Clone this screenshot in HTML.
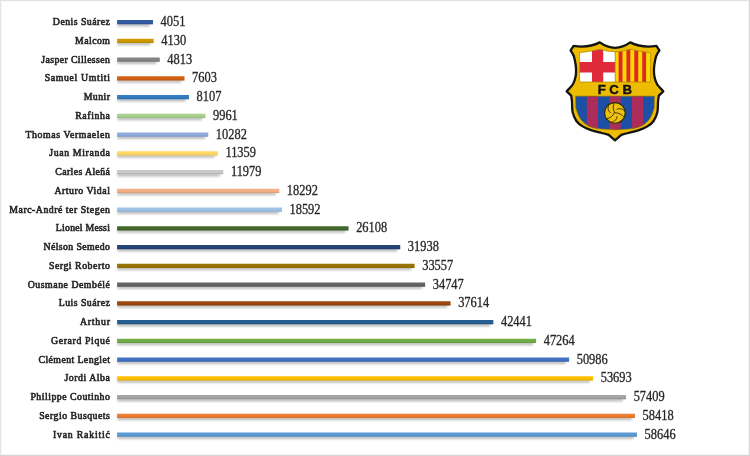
<!DOCTYPE html>
<html><head><meta charset="utf-8">
<style>
html,body{margin:0;padding:0;background:#fff;}
body{width:750px;height:456px;overflow:hidden;position:relative;}
svg{position:absolute;left:0;top:0;will-change:transform;}
.l{font-family:"Liberation Serif",serif;font-weight:normal;font-size:9.8px;letter-spacing:0px;fill:#262626;stroke:#262626;stroke-width:0.6px;text-anchor:end;}
.n{font-family:"Liberation Serif",serif;font-size:138.0px;fill:#262626;stroke:#262626;stroke-width:3.0px;}
</style></head><body>
<svg width="750" height="456" viewBox="0 0 750 456">
<defs><filter id="sh" x="-20%" y="-200%" width="140%" height="500%"><feGaussianBlur stdDeviation="1.0"/></filter></defs>
<rect x="0" y="0" width="750" height="456" fill="#fff"/>
<rect x="117.40" y="23.50" width="32.31" height="3.0" fill="#bdbdbd" filter="url(#sh)"/><rect x="117.10" y="20.00" width="35.91" height="4.3" fill="#335AA1"/><rect x="117.10" y="23.00" width="35.91" height="1.3" fill="#000" fill-opacity="0.09"/><rect x="117.40" y="42.25" width="33.01" height="3.0" fill="#bdbdbd" filter="url(#sh)"/><rect x="117.10" y="38.75" width="36.61" height="4.3" fill="#CC9A00"/><rect x="117.10" y="41.75" width="36.61" height="1.3" fill="#000" fill-opacity="0.09"/><rect x="117.40" y="61.00" width="39.07" height="3.0" fill="#bdbdbd" filter="url(#sh)"/><rect x="117.10" y="57.50" width="42.67" height="4.3" fill="#848484"/><rect x="117.10" y="60.50" width="42.67" height="1.3" fill="#000" fill-opacity="0.09"/><rect x="117.40" y="79.75" width="63.80" height="3.0" fill="#bdbdbd" filter="url(#sh)"/><rect x="117.10" y="76.25" width="67.40" height="4.3" fill="#D26012"/><rect x="117.10" y="79.25" width="67.40" height="1.3" fill="#000" fill-opacity="0.09"/><rect x="117.40" y="98.50" width="68.27" height="3.0" fill="#bdbdbd" filter="url(#sh)"/><rect x="117.10" y="95.00" width="71.87" height="4.3" fill="#327DC2"/><rect x="117.10" y="98.00" width="71.87" height="1.3" fill="#000" fill-opacity="0.09"/><rect x="117.40" y="117.25" width="84.70" height="3.0" fill="#bdbdbd" filter="url(#sh)"/><rect x="117.10" y="113.75" width="88.30" height="4.3" fill="#A9D18E"/><rect x="117.10" y="116.75" width="88.30" height="1.3" fill="#000" fill-opacity="0.09"/><rect x="117.40" y="136.00" width="87.55" height="3.0" fill="#bdbdbd" filter="url(#sh)"/><rect x="117.10" y="132.50" width="91.15" height="4.3" fill="#8FAADC"/><rect x="117.10" y="135.50" width="91.15" height="1.3" fill="#000" fill-opacity="0.09"/><rect x="117.40" y="154.75" width="97.10" height="3.0" fill="#bdbdbd" filter="url(#sh)"/><rect x="117.10" y="151.25" width="100.70" height="4.3" fill="#FFD966"/><rect x="117.10" y="154.25" width="100.70" height="1.3" fill="#000" fill-opacity="0.09"/><rect x="117.40" y="173.50" width="102.59" height="3.0" fill="#bdbdbd" filter="url(#sh)"/><rect x="117.10" y="170.00" width="106.19" height="4.3" fill="#C9C9C9"/><rect x="117.10" y="173.00" width="106.19" height="1.3" fill="#000" fill-opacity="0.09"/><rect x="117.40" y="192.25" width="158.56" height="3.0" fill="#bdbdbd" filter="url(#sh)"/><rect x="117.10" y="188.75" width="162.16" height="4.3" fill="#F4B183"/><rect x="117.10" y="191.75" width="162.16" height="1.3" fill="#000" fill-opacity="0.09"/><rect x="117.40" y="211.00" width="161.22" height="3.0" fill="#bdbdbd" filter="url(#sh)"/><rect x="117.10" y="207.50" width="164.82" height="4.3" fill="#9DC3E6"/><rect x="117.10" y="210.50" width="164.82" height="1.3" fill="#000" fill-opacity="0.09"/><rect x="117.40" y="229.75" width="227.85" height="3.0" fill="#bdbdbd" filter="url(#sh)"/><rect x="117.10" y="226.25" width="231.45" height="4.3" fill="#43682B"/><rect x="117.10" y="229.25" width="231.45" height="1.3" fill="#000" fill-opacity="0.09"/><rect x="117.40" y="248.50" width="279.53" height="3.0" fill="#bdbdbd" filter="url(#sh)"/><rect x="117.10" y="245.00" width="283.13" height="4.3" fill="#264478"/><rect x="117.10" y="248.00" width="283.13" height="1.3" fill="#000" fill-opacity="0.09"/><rect x="117.40" y="267.25" width="293.88" height="3.0" fill="#bdbdbd" filter="url(#sh)"/><rect x="117.10" y="263.75" width="297.48" height="4.3" fill="#997300"/><rect x="117.10" y="266.75" width="297.48" height="1.3" fill="#000" fill-opacity="0.09"/><rect x="117.40" y="286.00" width="304.43" height="3.0" fill="#bdbdbd" filter="url(#sh)"/><rect x="117.10" y="282.50" width="308.03" height="4.3" fill="#636363"/><rect x="117.10" y="285.50" width="308.03" height="1.3" fill="#000" fill-opacity="0.09"/><rect x="117.40" y="304.75" width="329.85" height="3.0" fill="#bdbdbd" filter="url(#sh)"/><rect x="117.10" y="301.25" width="333.45" height="4.3" fill="#9E480E"/><rect x="117.10" y="304.25" width="333.45" height="1.3" fill="#000" fill-opacity="0.09"/><rect x="117.40" y="323.50" width="372.64" height="3.0" fill="#bdbdbd" filter="url(#sh)"/><rect x="117.10" y="320.00" width="376.24" height="4.3" fill="#255E91"/><rect x="117.10" y="323.00" width="376.24" height="1.3" fill="#000" fill-opacity="0.09"/><rect x="117.40" y="342.25" width="415.40" height="3.0" fill="#bdbdbd" filter="url(#sh)"/><rect x="117.10" y="338.75" width="419.00" height="4.3" fill="#70AD47"/><rect x="117.10" y="341.75" width="419.00" height="1.3" fill="#000" fill-opacity="0.09"/><rect x="117.40" y="361.00" width="448.39" height="3.0" fill="#bdbdbd" filter="url(#sh)"/><rect x="117.10" y="357.50" width="451.99" height="4.3" fill="#4472C4"/><rect x="117.10" y="360.50" width="451.99" height="1.3" fill="#000" fill-opacity="0.09"/><rect x="117.40" y="379.75" width="472.39" height="3.0" fill="#bdbdbd" filter="url(#sh)"/><rect x="117.10" y="376.25" width="475.99" height="4.3" fill="#FFC000"/><rect x="117.10" y="379.25" width="475.99" height="1.3" fill="#000" fill-opacity="0.09"/><rect x="117.40" y="398.50" width="505.33" height="3.0" fill="#bdbdbd" filter="url(#sh)"/><rect x="117.10" y="395.00" width="508.93" height="4.3" fill="#A5A5A5"/><rect x="117.10" y="398.00" width="508.93" height="1.3" fill="#000" fill-opacity="0.09"/><rect x="117.40" y="417.25" width="514.28" height="3.0" fill="#bdbdbd" filter="url(#sh)"/><rect x="117.10" y="413.75" width="517.88" height="4.3" fill="#ED7D31"/><rect x="117.10" y="416.75" width="517.88" height="1.3" fill="#000" fill-opacity="0.09"/><rect x="117.40" y="436.00" width="516.30" height="3.0" fill="#bdbdbd" filter="url(#sh)"/><rect x="117.10" y="432.50" width="519.90" height="4.3" fill="#5B9BD5"/><rect x="117.10" y="435.50" width="519.90" height="1.3" fill="#000" fill-opacity="0.09"/>
<text class="l" x="109.9" y="25.00" textLength="57.03" lengthAdjust="spacing">Denis Suárez</text><text class="n" transform="translate(160.61,26.20) scale(0.0900,0.1)">4051</text><text class="l" x="109.9" y="43.75" textLength="34.78" lengthAdjust="spacing">Malcom</text><text class="n" transform="translate(161.31,44.95) scale(0.0900,0.1)">4130</text><text class="l" x="109.9" y="62.50" textLength="68.55" lengthAdjust="spacing">Jasper Cillessen</text><text class="n" transform="translate(167.37,63.70) scale(0.0900,0.1)">4813</text><text class="l" x="109.9" y="81.25" textLength="65.19" lengthAdjust="spacing">Samuel Umtiti</text><text class="n" transform="translate(192.10,82.45) scale(0.0900,0.1)">7603</text><text class="l" x="109.9" y="100.00" textLength="26.22" lengthAdjust="spacing">Munir</text><text class="n" transform="translate(196.57,101.20) scale(0.0900,0.1)">8107</text><text class="l" x="109.9" y="118.75" textLength="34.77" lengthAdjust="spacing">Rafinha</text><text class="n" transform="translate(213.00,119.95) scale(0.0900,0.1)">9961</text><text class="l" x="109.9" y="137.50" textLength="84.33" lengthAdjust="spacing">Thomas Vermaelen</text><text class="n" transform="translate(215.85,138.70) scale(0.0900,0.1)">10282</text><text class="l" x="109.9" y="156.25" textLength="60.66" lengthAdjust="spacing">Juan Miranda</text><text class="n" transform="translate(225.40,157.45) scale(0.0900,0.1)">11359</text><text class="l" x="109.9" y="175.00" textLength="54.61" lengthAdjust="spacing">Carles Aleñá</text><text class="n" transform="translate(230.89,176.20) scale(0.0900,0.1)">11979</text><text class="l" x="109.9" y="193.75" textLength="55.48" lengthAdjust="spacing">Arturo Vidal</text><text class="n" transform="translate(286.86,194.95) scale(0.0900,0.1)">18292</text><text class="l" x="109.9" y="212.50" textLength="100.53" lengthAdjust="spacing">Marc-André ter Stegen</text><text class="n" transform="translate(289.52,213.70) scale(0.0900,0.1)">18592</text><text class="l" x="109.9" y="231.25" textLength="54.08" lengthAdjust="spacing">Lionel Messi</text><text class="n" transform="translate(356.15,232.45) scale(0.0900,0.1)">26108</text><text class="l" x="109.9" y="250.00" textLength="66.42" lengthAdjust="spacing">Nélson Semedo</text><text class="n" transform="translate(407.83,251.20) scale(0.0900,0.1)">31938</text><text class="l" x="109.9" y="268.75" textLength="61.00" lengthAdjust="spacing">Sergi Roberto</text><text class="n" transform="translate(422.18,269.95) scale(0.0900,0.1)">33557</text><text class="l" x="109.9" y="287.50" textLength="82.14" lengthAdjust="spacing">Ousmane Dembélé</text><text class="n" transform="translate(432.73,288.70) scale(0.0900,0.1)">34747</text><text class="l" x="109.9" y="306.25" textLength="51.14" lengthAdjust="spacing">Luis Suárez</text><text class="n" transform="translate(458.15,307.45) scale(0.0900,0.1)">37614</text><text class="l" x="109.9" y="325.00" textLength="29.94" lengthAdjust="spacing">Arthur</text><text class="n" transform="translate(500.94,326.20) scale(0.0900,0.1)">42441</text><text class="l" x="109.9" y="343.75" textLength="58.92" lengthAdjust="spacing">Gerard Piqué</text><text class="n" transform="translate(543.70,344.95) scale(0.0900,0.1)">47264</text><text class="l" x="109.9" y="362.50" textLength="71.39" lengthAdjust="spacing">Clément Lenglet</text><text class="n" transform="translate(576.69,363.70) scale(0.0900,0.1)">50986</text><text class="l" x="109.9" y="381.25" textLength="45.38" lengthAdjust="spacing">Jordi Alba</text><text class="n" transform="translate(600.69,382.45) scale(0.0900,0.1)">53693</text><text class="l" x="109.9" y="400.00" textLength="79.50" lengthAdjust="spacing">Philippe Coutinho</text><text class="n" transform="translate(633.63,401.20) scale(0.0900,0.1)">57409</text><text class="l" x="109.9" y="418.75" textLength="70.73" lengthAdjust="spacing">Sergio Busquets</text><text class="n" transform="translate(642.58,419.95) scale(0.0900,0.1)">58418</text><text class="l" x="109.9" y="437.50" textLength="56.98" lengthAdjust="spacing">Ivan Rakitić</text><text class="n" transform="translate(644.60,438.70) scale(0.0900,0.1)">58646</text>
<g id="crest">
<defs>
<clipPath id="lowclip"><path d="M575.6,96.2 L654.4,96.2 L654.2,108 C653.75,109.23 652.53,113.27 651.50,115.40 C650.47,117.53 649.58,119.10 648.00,120.80 C646.42,122.50 644.60,124.30 642.00,125.60 C639.40,126.90 636.90,127.90 632.40,128.60 C627.90,129.30 617.90,129.60 615.00,129.80 C612.10,129.60 602.10,129.30 597.60,128.60 C593.10,127.90 590.60,126.90 588.00,125.60 C585.40,124.30 583.58,122.50 582.00,120.80 C580.42,119.10 579.53,117.53 578.50,115.40 C577.47,113.27 576.25,109.23 575.80,108.00 Z"/></clipPath>
<clipPath id="topclip"><path d="M579.6,52.8 Q590,51.5 600,49.2 Q615,54.5 630,49.2 Q640,51.5 650.6,52.8 L650.6,82 L579.6,82 Z"/></clipPath>
</defs>
<path d="M599.8,42.4 Q615,53.2 630.2,42.4 Q642,48.3 656.4,45.9 L659.4,50.4 C658.90,51.25 657.13,53.73 656.40,55.50 C655.67,57.27 655.40,58.92 655.00,61.00 C654.60,63.08 654.12,65.50 654.00,68.00 C653.88,70.50 653.80,73.33 654.30,76.00 C654.80,78.67 655.50,81.45 657.00,84.00 C658.50,86.55 662.25,90.08 663.30,91.30 L658.8,95.6 C658.67,96.67 658.23,99.27 658.00,102.00 C657.77,104.73 658.13,108.83 657.40,112.00 C656.67,115.17 655.27,118.60 653.60,121.00 C651.93,123.40 649.83,124.87 647.40,126.40 C644.97,127.93 642.15,129.10 639.00,130.20 C635.85,131.30 631.40,132.27 628.50,133.00 C625.60,133.73 622.75,134.33 621.60,134.60 L615,140.3 L608.40,134.60 C607.25,134.33 604.40,133.73 601.50,133.00 C598.60,132.27 594.15,131.30 591.00,130.20 C587.85,129.10 585.03,127.93 582.60,126.40 C580.17,124.87 578.07,123.40 576.40,121.00 C574.73,118.60 573.33,115.17 572.60,112.00 C571.87,108.83 572.23,104.73 572.00,102.00 C571.77,99.27 571.33,96.67 571.20,95.60 L566.70,91.30 C567.75,90.08 571.50,86.55 573.00,84.00 C574.50,81.45 575.20,78.67 575.70,76.00 C576.20,73.33 576.12,70.50 576.00,68.00 C575.88,65.50 575.40,63.08 575.00,61.00 C574.60,58.92 574.33,57.27 573.60,55.50 C572.87,53.73 571.10,51.25 570.60,50.40 L573.6,45.9 Q588,48.3 599.8,42.4 Z" fill="#EDBB00" stroke="#141414" stroke-width="2.3" stroke-linejoin="round"/>
<g clip-path="url(#topclip)">
<rect x="579" y="44" width="36.2" height="40" fill="#FFFFFF"/>
<rect x="592" y="44" width="11.2" height="40" fill="#E0293A"/>
<rect x="579" y="62" width="36.2" height="10.5" fill="#E0293A"/>
<rect x="615.2" y="44" width="36" height="40" fill="#FCD800"/>
<rect x="618.6" y="44" width="3.9" height="40" fill="#DC2A2A"/>
<rect x="626.4" y="44" width="3.9" height="40" fill="#DC2A2A"/>
<rect x="634.3" y="44" width="3.9" height="40" fill="#DC2A2A"/>
<rect x="642.2" y="44" width="3.9" height="40" fill="#DC2A2A"/>
</g>
<path d="M579.6,52.8 Q590,51.5 600,49.2 Q615,54.5 630,49.2 Q640,51.5 650.6,52.8 L650.6,82 L579.6,82 Z M615.2,51.5 L615.2,82" fill="none" stroke="#A88600" stroke-width="0.7"/>
<g clip-path="url(#lowclip)">
<rect x="574" y="95" width="82" height="40" fill="#1C4FA6"/>
<rect x="586.8" y="95" width="11.3" height="40" fill="#AC2D5C"/>
<rect x="609.3" y="95" width="11.3" height="40" fill="#AC2D5C"/>
<rect x="631.9" y="95" width="11.3" height="40" fill="#AC2D5C"/>
</g>
<path d="M575.6,96.2 L654.4,96.2 L654.2,108 C653.75,109.23 652.53,113.27 651.50,115.40 C650.47,117.53 649.58,119.10 648.00,120.80 C646.42,122.50 644.60,124.30 642.00,125.60 C639.40,126.90 636.90,127.90 632.40,128.60 C627.90,129.30 617.90,129.60 615.00,129.80 C612.10,129.60 602.10,129.30 597.60,128.60 C593.10,127.90 590.60,126.90 588.00,125.60 C585.40,124.30 583.58,122.50 582.00,120.80 C580.42,119.10 579.53,117.53 578.50,115.40 C577.47,113.27 576.25,109.23 575.80,108.00 Z" fill="none" stroke="#8A6E00" stroke-width="0.6"/>
<circle cx="614.9" cy="112.9" r="10.3" fill="#EEC20C" stroke="#2E2A10" stroke-width="1.1"/>
<path d="M614.40,112.60 Q611.81,108.15 614.00,102.64 M610.57,112.90 Q606.53,110.34 608.70,104.67 M614.40,112.60 Q620.56,112.60 624.23,117.25 M617.06,109.15 Q621.30,106.93 625.12,111.64 M614.40,112.60 Q612.33,117.95 606.46,118.81 M617.06,116.65 Q616.87,121.43 610.88,122.38" fill="none" stroke="#4A3C00" stroke-width="1.0" stroke-linecap="round"/>
<g font-family="Liberation Sans, sans-serif" font-weight="bold" font-size="13.2" text-anchor="middle" fill="#111" stroke="#111" stroke-width="0.45">
<text x="601.8" y="94.0">F</text>
<text x="613.9" y="94.0">C</text>
<text x="627.2" y="94.0">B</text>
</g>
</g>
<rect x="0" y="0" width="750" height="1.2" fill="#e2e2e2"/><rect x="0" y="0" width="1.2" height="456" fill="#e2e2e2"/><rect x="749" y="0" width="1" height="456" fill="#d6d6d6"/><rect x="748.5" y="0" width="0.5" height="456" fill="#ececec"/><rect x="0" y="455" width="750" height="1" fill="#d6d6d6"/><rect x="0" y="454.5" width="750" height="0.5" fill="#ececec"/>
</svg>
</body></html>
